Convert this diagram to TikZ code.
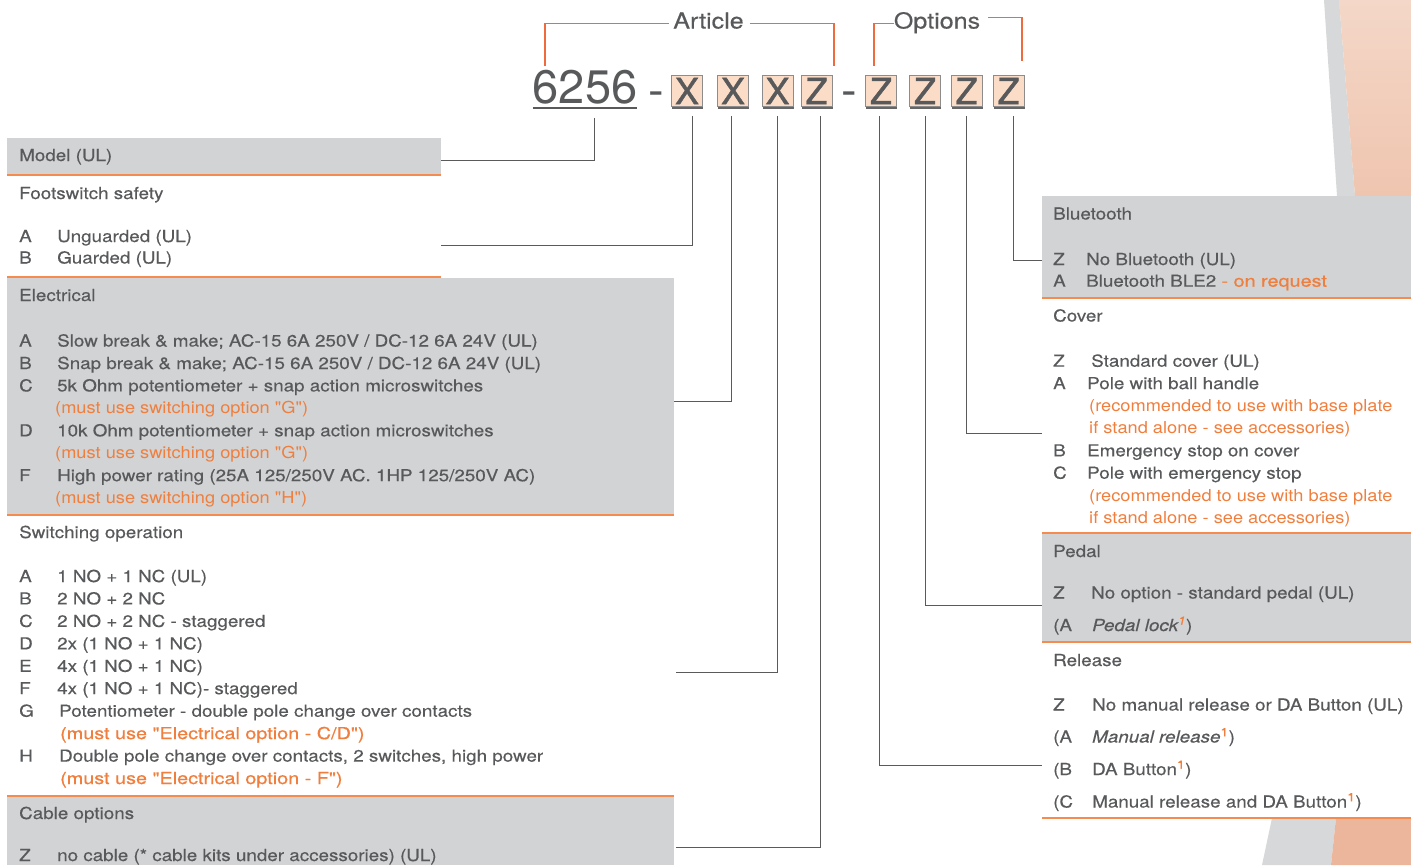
\documentclass[tikz,border=0pt]{standalone}
\usepackage{fontspec}
\setmainfont{TeX Gyre Heros}
\newfontfamily\widesans[FakeStretch=1.14,FakeBold=0.35]{TeX Gyre Heros}
\newfontfamily\lightsans[FakeStretch=1.105]{TeX Gyre Heros}
\newfontfamily\midsans[FakeStretch=1.2,FakeBold=0.7]{TeX Gyre Heros}
\newfontfamily\boxsans[FakeBold=1.2]{TeX Gyre Heros}
\usetikzlibrary{shadows}

\definecolor{txtgray}{HTML}{58595B}
\definecolor{panelgray}{HTML}{D1D3D4}
\definecolor{ruleorange}{HTML}{F58B4E}
\definecolor{noteorange}{HTML}{F07E3D}
\definecolor{brkorange}{HTML}{EF6A3C}
\definecolor{peach}{HTML}{FBDCC7}
\definecolor{boxedge}{HTML}{8C8C8C}
\definecolor{linkgray}{HTML}{5A5A5A}
\definecolor{swoopgray}{HTML}{D6D8D9}
\definecolor{peachtop}{HTML}{F4D7C8}
\definecolor{peachbot}{HTML}{EFC5AF}
\definecolor{peachlow}{HTML}{EBB69B}

\newcommand{\keyl}[2][38pt]{\makebox[#1][l]{#2}}
\newcommand{\note}[1]{{\midsans\textcolor{noteorange}{#1}}}
\newcommand{\fn}{\textsuperscript{\midsans\textcolor{noteorange}{1}}}

\tikzset{
  row/.style={anchor=base west, inner sep=0pt, text=txtgray, font=\widesans\fontsize{16.5}{20}\selectfont},
  lightnote/.style={row, text=noteorange, font=\lightsans\fontsize{16.5}{20}\selectfont},
  midnote/.style={row, text=noteorange, font=\midsans\fontsize{16.5}{20}\selectfont},
  codebox/.style={draw=boxedge, fill=peach, minimum size=31pt, inner sep=0pt, text=txtgray,
    font=\boxsans\fontsize{36}{36}\selectfont,
    drop shadow={shadow scale=1, shadow xshift=0.5pt, shadow yshift=-2.5pt, fill=black!60, opacity=1}},
  bigtext/.style={anchor=base, inner sep=0pt, text=txtgray},
  link/.style={draw=linkgray, line width=0.9pt, shorten <=9.5pt},
  bracket/.style={draw=brkorange, line width=1.1pt},
  sep/.style={draw=ruleorange, line width=1.4pt},
}

\begin{document}
\begin{tikzpicture}[x=1pt,y=-1pt]
  \useasboundingbox (0,0) rectangle (1411,865);

  % corner swoosh
  \fill[swoopgray] (1324,0) -- (1339,0) -- (1355,196) -- (1337,196) -- cycle;
  \shade[top color=peachtop, bottom color=peachbot] (1339,0) -- (1411,0) -- (1411,196) -- (1355,196) -- cycle;
  \fill[swoopgray] (1272,818) -- (1336,818) -- (1331,865) -- (1262,865) -- cycle;
  \fill[peachlow] (1336,818) -- (1411,818) -- (1411,865) -- (1331,865) -- cycle;

  % panels
  \fill[panelgray] (7,138) rectangle (441,175);
  \draw[sep] (7,175) -- (441,175);
  \draw[sep] (7,277) -- (441,277);
  \fill[panelgray] (7,278) rectangle (674,514);
  \draw[sep] (7,515) -- (674,515);
  \draw[sep] (7,796) -- (674,796);
  \fill[panelgray] (7,797) rectangle (674,865);
  \fill[panelgray] (1042,196) rectangle (1411,297);
  \draw[sep] (1042,298) -- (1411,298);
  \draw[sep] (1042,533) -- (1411,533);
  \fill[panelgray] (1042,534) rectangle (1411,641);
  \draw[sep] (1042,642) -- (1411,642);
  \draw[sep] (1042,818) -- (1411,818);

  % article code
  \node[bigtext, font=\fontsize{47}{47}\selectfont] (num) at (585,103) {6256};
  \draw[txtgray, line width=1.5pt] ([yshift=-5pt]num.base west) -- ([yshift=-5pt]num.base east);
  \node[bigtext, font=\fontsize{47}{47}\selectfont] (d1) at (656,106) {-};
  \node[bigtext, font=\fontsize{47}{47}\selectfont] (d2) at (849,106) {-};
  \node[codebox] (c1) at (687,91) {X};
  \node[codebox] (c2) at (733,91) {X};
  \node[codebox] (c3) at (777.5,91) {X};
  \node[codebox] (c4) at (816.5,91) {Z};
  \node[codebox] (c5) at (881,91) {Z};
  \node[codebox] (c6) at (925,91) {Z};
  \node[codebox] (c7) at (966.5,91) {Z};
  \node[codebox] (c8) at (1008.5,91) {Z};

  \node[bigtext, font=\widesans\fontsize{22}{22}\selectfont] (art) at (708.5,28.5) {Article};
  \node[bigtext, font=\widesans\fontsize{22}{22}\selectfont] (opt) at (937,28.5) {Options};
  \coordinate (artL) at (545,66);
  \coordinate (artR) at (834,66);
  \coordinate (optL) at (874,66);
  \coordinate (optR) at (1022,61);
  \draw[bracket] (artL) |- ([xshift=-4pt,yshift=-2.6pt]art.west);
  \draw[bracket] ([xshift=6pt,yshift=-2.6pt]art.east) -| (artR);
  \draw[bracket] (optL) |- ([yshift=-0.4pt]opt.west);
  \draw[bracket] ([xshift=8pt,yshift=5pt]opt.east) -| (optR);

  % panel ends of the links
  \coordinate (pModel) at (441,160);
  \coordinate (pFsw) at (441,245);
  \coordinate (pElec) at (674,401);
  \coordinate (pSw) at (676,672);
  \coordinate (pCable) at (676,847);
  \coordinate (pBt) at (1042,260);
  \coordinate (pCover) at (1042,433);
  \coordinate (pPedal) at (1042,605);
  \coordinate (pRelease) at (1042,765);

  \draw[link, shorten <=14pt] ([xshift=9pt]num.south) |- (pModel);
  \draw[link] ([xshift=5pt]c1.south) |- (pFsw);
  \draw[link] ([xshift=-2pt]c2.south) |- (pElec);
  \draw[link] (c3.south) |- (pSw);
  \draw[link] ([xshift=3.5pt]c4.south) |- (pCable);
  \draw[link] ([xshift=-2pt]c5.south) |- (pRelease);
  \draw[link] (c6.south) |- (pPedal);
  \draw[link] (c7.south) |- (pCover);
  \draw[link] ([xshift=4.5pt]c8.south) |- (pBt);

  % left column
  \node[row] (model) at (19,161) {Model (UL)};
  \node[row] (fsw) at (19,199) {Footswitch safety};
  \node[row] (fswA) at (19,242) {\keyl{A}Unguarded (UL)};
  \node[row] (fswB) at (19,263.5) {\keyl{B}Guarded (UL)};

  \node[row] (elec) at (19,301) {Electrical};
  \foreach \yy/\txt [count=\i] in {
      346.5/{\keyl{A}Slow break \& make; AC-15 6A 250V / DC-12 6A 24V (UL)},
      369/{\keyl{B}Snap break \& make; AC-15 6A 250V / DC-12 6A 24V (UL)},
      391.4/{\keyl{C}5k Ohm potentiometer + snap action microswitches},
      436.3/{\keyl{D}10k Ohm potentiometer + snap action microswitches},
      481.2/{\keyl{F}High power rating (25A 125/250V AC. 1HP 125/250V AC)}}
    \node[row] (el\i) at (19,\yy) {\txt};
  \foreach \yy/\ll [count=\i] in {413.8/G, 458.7/G, 503.7/H}
    \node[lightnote] (eln\i) at (55,\yy) {(must use switching option "\ll")};

  \node[row] (sw) at (19,538) {Switching operation};
  \foreach \yy/\txt [count=\i] in {
      582/{\keyl{A}1 NO + 1 NC (UL)},
      604.4/{\keyl{B}2 NO + 2 NC},
      626.9/{\keyl{C}2 NO + 2 NC - staggered},
      649.3/{\keyl{D}2x (1 NO + 1 NC)},
      671.8/{\keyl{E}4x (1 NO + 1 NC)},
      694.2/{\keyl{F}4x (1 NO + 1 NC)- staggered},
      716.7/{\keyl[40pt]{G}Potentiometer - double pole change over contacts},
      761.6/{\keyl[40pt]{H}Double pole change over contacts, 2 switches, high power}}
    \node[row] (sw\i) at (19,\yy) {\txt};
  \node[midnote] (swn1) at (60,739.1) {(must use "Electrical option - C/D")};
  \node[midnote] (swn2) at (60,784) {(must use "Electrical option - F")};

  \node[row] (cab) at (19,819) {Cable options};
  \node[row] (cabZ) at (19,861) {\keyl{Z}no cable (* cable kits under accessories) (UL)};

  % right column
  \node[row] (bt) at (1053,219.5) {Bluetooth};
  \node[row] (btZ) at (1053,265) {\keyl[33pt]{Z}No Bluetooth (UL)};
  \node[row] (btA) at (1053,286.7) {\keyl[33pt]{A}Bluetooth BLE2 \note{- on request}};

  \node[row] (cov) at (1053,321.5) {Cover};
  \foreach \yy/\txt [count=\i] in {
      366.7/{\keyl{Z}Standard cover (UL)},
      389.1/{\keyl[34pt]{A}Pole with ball handle},
      456.3/{\keyl[34pt]{B}Emergency stop on cover},
      478.7/{\keyl[34pt]{C}Pole with emergency stop}}
    \node[row] (cov\i) at (1053,\yy) {\txt};
  \foreach \yy/\txt [count=\i] in {
      411.5/{(recommended to use with base plate},
      433.9/{if stand alone - see accessories)},
      501.1/{(recommended to use with base plate},
      523.5/{if stand alone - see accessories)}}
    \node[lightnote] (covn\i) at (1089,\yy) {\txt};

  \node[row] (ped) at (1053,557) {Pedal};
  \node[row] (pedZ) at (1053,598.5) {\keyl{Z}No option - standard pedal (UL)};
  \node[row] (pedA) at (1053,631) {\keyl[39pt]{(A}\textit{Pedal lock\textsuperscript{\textcolor{noteorange}{1}}})};

  \node[row] (rel) at (1053,666) {Release};
  \node[row] (relZ) at (1053,710.5) {\keyl[39pt]{Z}No manual release or DA Button (UL)};
  \node[row] (relA) at (1053,742.5) {\keyl[39pt]{(A}\textit{Manual release}\fn)};
  \node[row] (relB) at (1053,775) {\keyl[39pt]{(B}DA Button\fn)};
  \node[row] (relC) at (1053,807.5) {\keyl[39pt]{(C}Manual release and DA Button\fn)};
\end{tikzpicture}
\end{document}
